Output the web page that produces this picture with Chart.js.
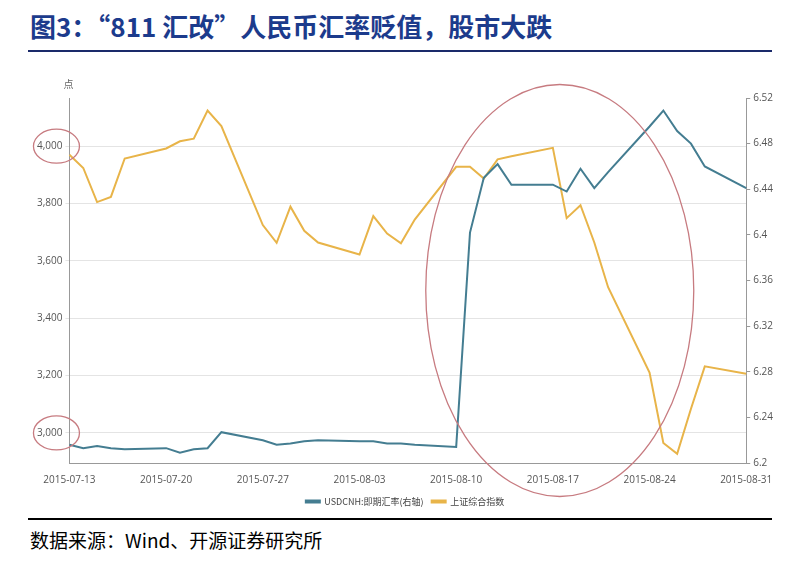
<!DOCTYPE html>
<html>
<head>
<meta charset="utf-8">
<script src="https://cdn.jsdelivr.net/npm/chart.js@4"></script>
<style>
  body { margin: 0; width: 800px; height: 568px; background: #fff; position: relative; overflow: hidden; }
  #title { position: absolute; left: 30px; top: 7px; font: bold 26px "Noto Sans CJK SC", serif; color: #1c3b8c; }
  #topline { position: absolute; left: 28px; top: 50px; width: 744px; height: 2px; background: #1a2a6a; }
  #botline { position: absolute; left: 28px; top: 518px; width: 744px; height: 2px; background: #000; }
  #source { position: absolute; left: 30px; top: 526px; font: 19px "Noto Sans CJK SC", serif; color: #000; }
  #wrap { position: absolute; left: 0; top: 60px; width: 800px; height: 458px; }
</style>
</head>
<body>
<div id="title">图3：“811 汇改”人民币汇率贬值，股市大跌</div>
<div id="topline"></div>
<div id="wrap"><canvas id="c"></canvas></div>
<div id="botline"></div>
<div id="source">数据来源：Wind、开源证券研究所</div>
<script>
// calendar days 2015-07-13 .. 2015-08-31, weekends are null
const dates = [];
for (let i = 0; i < 50; i++) {
    const d = new Date(Date.UTC(2015, 6, 13 + i));
    dates.push(d.toISOString().slice(0, 10));
}
const N = null;
// 上证综合指数
const sse = [
    3970, 3924, 3805, 3823, 3957, N, N,
    3992, 4017, 4026, 4124, 4070, N, N,
    3725, 3663, 3789, 3705, 3664, N, N,
    3622, 3756, 3695, 3661, 3744, N, N,
    3928, 3928, 3887, 3954, 3965, N, N,
    3994, 3749, 3794, 3664, 3508, N, N,
    3210, 2965, 2927, 3084, 3232, N, N,
    3206
];
// USDCNH 即期汇率 (右轴)
const cnh = [
    6.216, 6.213, 6.215, 6.213, 6.212, N, N,
    6.213, 6.209, 6.212, 6.213, 6.227, N, N,
    6.220, 6.216, 6.217, 6.219, 6.220, N, N,
    6.219, 6.219, 6.217, 6.217, 6.216, N, N,
    6.214, 6.402, 6.450, 6.462, 6.444, N, N,
    6.444, 6.438, 6.458, 6.441, 6.455, N, N,
    6.495, 6.509, 6.491, 6.480, 6.460, N, N,
    6.441
];
const leftTicks = [3000, 3200, 3400, 3600, 3800, 4000];

const ellipses = {
    id: 'ellipses',
    afterDatasetsDraw(chart) {
        const { ctx, scales } = chart;
        const x = scales.x, y = scales.y;
        ctx.save();
        ctx.strokeStyle = '#c77b80';
        ctx.lineWidth = 1.3;
        // big ellipse around 811
        const cx = x.getPixelForValue(35.5), cy = (chart.chartArea.top + chart.chartArea.bottom) / 2 + 10;
        ctx.beginPath();
        ctx.ellipse(cx, cy, 134, 206, 0, 0, Math.PI * 2);
        ctx.stroke();
        // small ellipses on left ticks
        [4000, 3000].forEach(v => {
            ctx.beginPath();
            ctx.ellipse(x.left - 13, y.getPixelForValue(v), 23, 17, 0, 0, Math.PI * 2);
            ctx.stroke();
        });
        // unit label
        ctx.fillStyle = '#666';
        ctx.font = '10px "Noto Sans CJK SC"';
        ctx.fillText('点', x.left - 6, chart.chartArea.top - 14);
        ctx.restore();
    }
};

new Chart(document.getElementById('c'), {
    type: 'line',
    data: {
        labels: dates,
        datasets: [
            { label: 'USDCNH:即期汇率(右轴)', data: cnh, yAxisID: 'y1', borderColor: '#447d91', backgroundColor: '#447d91', borderWidth: 2, pointRadius: 0, spanGaps: true, tension: 0 },
            { label: '上证综合指数', data: sse, yAxisID: 'y', borderColor: '#e8b449', backgroundColor: '#e8b449', borderWidth: 2, pointRadius: 0, spanGaps: true, tension: 0 }
        ]
    },
    plugins: [ellipses],
    options: {
        responsive: true,
        maintainAspectRatio: false,
        animation: false,
        layout: { padding: { left: 34, right: 24, top: 38, bottom: 2 } },
        plugins: {
            legend: {
                position: 'bottom',
                labels: { boxWidth: 14, boxHeight: 2, font: { size: 9, family: 'Noto Sans CJK SC' }, color: '#444', padding: 8 }
            },
            tooltip: { enabled: false }
        },
        scales: {
            x: {
                offset: false,
                grid: { display: false, drawTicks: true },
                border: { color: '#999' },
                ticks: {
                    autoSkip: false, maxRotation: 0, color: '#555', font: { size: 10, family: 'Open Sans' },
                    callback: function(v, i) { return i % 7 === 0 ? dates[i] : null; }
                }
            },
            y: {
                position: 'left', min: 2895, max: 4168,
                afterBuildTicks: s => { s.ticks = leftTicks.map(v => ({ value: v })); },
                grid: { color: '#e4e4e4', borderDash: [3, 3], drawTicks: true, tickLength: 4 },
                border: { color: '#999' },
                ticks: { color: '#555', font: { size: 10, family: 'Open Sans' }, callback: v => v.toLocaleString('en-US') }
            },
            y1: {
                position: 'right', min: 6.2, max: 6.52,
                grid: { drawOnChartArea: false, tickLength: 4, color: '#999' },
                border: { color: '#999' },
                ticks: { stepSize: 0.04, color: '#555', font: { size: 10, family: 'Open Sans' }, callback: v => +v.toFixed(2) }
            }
        }
    }
});
</script>
</body>
</html>
